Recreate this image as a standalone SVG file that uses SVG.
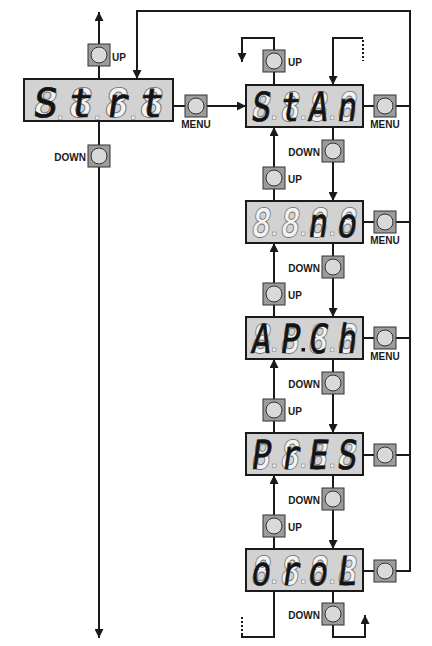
<svg xmlns="http://www.w3.org/2000/svg" width="432" height="646" viewBox="0 0 432 646">
<style>
.ln{fill:none;stroke:#1a1a1a;stroke-width:2}
.dash{fill:none;stroke:#1a1a1a;stroke-width:2;stroke-dasharray:2,2}
.disp{fill:#d2d2d2;stroke:#1a1a1a;stroke-width:2}
.bsq{fill:#9c9c9c;stroke:#333;stroke-width:1}
.bci{fill:#d9d9d9;stroke:#333;stroke-width:1}
.lbl{font-family:"Liberation Sans",Arial,sans-serif;font-weight:bold;font-size:10px;fill:#1a1a1a}
.g{font-family:"DejaVu Sans Mono",monospace;font-weight:bold;font-size:40px;fill:#f3f3f3;stroke:#6e6e6e;stroke-width:0.9;text-anchor:middle}
.d{font-family:"DejaVu Sans Mono",monospace;font-weight:normal;font-size:40px;fill:#141414;stroke:#141414;stroke-width:0.6;text-anchor:middle}
.gd{fill:#eeeeee;stroke:#888;stroke-width:0.6}
.ld{fill:#141414}
</style>
<defs>
<marker id="ah" viewBox="0 0 10 10" refX="10" refY="5" markerWidth="10" markerHeight="9" orient="auto" markerUnits="userSpaceOnUse"><path d="M0,0 L10,5 L0,10 z" fill="#1a1a1a"/></marker>
</defs>
<rect width="432" height="646" fill="#ffffff"/>
<g id="connectors">
<path class="ln" d="M99,80 V12" marker-end="url(#ah)"/>
<path class="ln" d="M99,120 V638" marker-end="url(#ah)"/>
<path class="ln" d="M173,106 H246" marker-end="url(#ah)"/>
<path class="ln" d="M363,571 H410 V11 H137 V79" marker-end="url(#ah)"/>
<path class="ln" d="M363,106 H410 M363,222 H410 M363,338 H410 M363,455 H410"/>
<path class="ln" d="M274,85 V38 H242 V62" marker-end="url(#ah)"/>
<path class="ln" d="M363,38 H333 V85" marker-end="url(#ah)"/>
<path class="dash" d="M363,40 V61"/>
<path class="ln" d="M333,127 V201" marker-end="url(#ah)"/>
<path class="ln" d="M333,243 V317" marker-end="url(#ah)"/>
<path class="ln" d="M333,359 V433" marker-end="url(#ah)"/>
<path class="ln" d="M333,475 V549" marker-end="url(#ah)"/>
<path class="ln" d="M274,201 V127" marker-end="url(#ah)"/>
<path class="ln" d="M274,317 V243" marker-end="url(#ah)"/>
<path class="ln" d="M274,433 V359" marker-end="url(#ah)"/>
<path class="ln" d="M274,549 V475" marker-end="url(#ah)"/>
<path class="ln" d="M333,591 V637 H365 V615" marker-end="url(#ah)"/>
<path class="ln" d="M274,591 V637 H242 V635"/>
<path class="dash" d="M242,635 V616"/>
</g>
<g id="display-strt">
<rect class="disp" x="24" y="79" width="149" height="42"/>
<g transform="translate(44,117) skewX(-8) scale(1.02,1)"><text class="g">8</text><text class="d">S</text></g>
<g transform="translate(79,117) skewX(-8) scale(1.02,1)"><text class="g">8</text><text class="d">t</text></g>
<g transform="translate(115,117) skewX(-8) scale(1.02,1)"><text class="g">8</text><text class="d">r</text></g>
<g transform="translate(150,117) skewX(-8) scale(1.02,1)"><text class="g">8</text><text class="d">t</text></g>
<rect class="gd" x="58.5" y="116" width="3.5" height="3.5"/>
<rect class="gd" x="95.5" y="116" width="3.5" height="3.5"/>
<rect class="gd" x="131.5" y="116" width="3.5" height="3.5"/>
</g>
<g id="btn-up-left"><rect class="bsq" x="88" y="44" width="22" height="22"/><circle class="bci" cx="99" cy="55" r="8"/><text class="lbl" x="112" y="61">UP</text></g>
<g id="btn-down-left"><rect class="bsq" x="88" y="145" width="22" height="22"/><circle class="bci" cx="99" cy="156" r="8"/><text class="lbl" x="86" y="161" text-anchor="end">DOWN</text></g>
<g id="btn-menu-left"><rect class="bsq" x="185" y="95" width="22" height="22"/><circle class="bci" cx="196" cy="106" r="8"/><text class="lbl" x="196" y="128" text-anchor="middle">MENU</text></g>

<g id="display-stan">
<rect class="disp" x="246" y="85" width="117" height="42"/>
<g transform="translate(260,121) skewX(-8) scale(0.82,1)"><text class="g">8</text><text class="d">S</text></g>
<g transform="translate(289,121) skewX(-8) scale(0.82,1)"><text class="g">8</text><text class="d">t</text></g>
<g transform="translate(317,121) skewX(-8) scale(0.82,1)"><text class="g">8</text><text class="d">A</text></g>
<g transform="translate(346,121) skewX(-8) scale(0.82,1)"><text class="g">8</text><text class="d">n</text></g>
<rect class="gd" x="272.5" y="116" width="3.5" height="3.5"/><rect class="gd" x="301.5" y="116" width="3.5" height="3.5"/><rect class="gd" x="330.5" y="116" width="3.5" height="3.5"/>
</g>
<g id="display-no">
<rect class="disp" x="246" y="201" width="117" height="42"/>
<g transform="translate(260,237) skewX(-8) scale(0.82,1)"><text class="g">8</text></g>
<g transform="translate(289,237) skewX(-8) scale(0.82,1)"><text class="g">8</text></g>
<g transform="translate(317,237) skewX(-8) scale(0.82,1)"><text class="g">8</text><text class="d">n</text></g>
<g transform="translate(346,237) skewX(-8) scale(0.82,1)"><text class="g">8</text><text class="d">o</text></g>
<rect class="gd" x="272.5" y="232" width="3.5" height="3.5"/><rect class="gd" x="301.5" y="232" width="3.5" height="3.5"/><rect class="gd" x="330.5" y="232" width="3.5" height="3.5"/>
</g>
<g id="display-apch">
<rect class="disp" x="246" y="317" width="117" height="42"/>
<g transform="translate(260,353) skewX(-8) scale(0.82,1)"><text class="g">8</text><text class="d">A</text></g>
<g transform="translate(289,353) skewX(-8) scale(0.82,1)"><text class="g">8</text><text class="d">P</text></g>
<g transform="translate(317,353) skewX(-8) scale(0.82,1)"><text class="g">8</text><text class="d">C</text></g>
<g transform="translate(346,353) skewX(-8) scale(0.82,1)"><text class="g">8</text><text class="d">h</text></g>
<rect class="gd" x="272.5" y="348" width="3.5" height="3.5"/><rect class="ld" x="301.5" y="348" width="3.5" height="3.5"/><rect class="gd" x="330.5" y="348" width="3.5" height="3.5"/>
</g>
<g id="display-pres">
<rect class="disp" x="246" y="433" width="117" height="42"/>
<g transform="translate(260,469) skewX(-8) scale(0.82,1)"><text class="g">8</text><text class="d">P</text></g>
<g transform="translate(289,469) skewX(-8) scale(0.82,1)"><text class="g">8</text><text class="d">r</text></g>
<g transform="translate(317,469) skewX(-8) scale(0.82,1)"><text class="g">8</text><text class="d">E</text></g>
<g transform="translate(346,469) skewX(-8) scale(0.82,1)"><text class="g">8</text><text class="d">S</text></g>
<rect class="gd" x="272.5" y="464" width="3.5" height="3.5"/><rect class="gd" x="301.5" y="464" width="3.5" height="3.5"/><rect class="gd" x="330.5" y="464" width="3.5" height="3.5"/>
</g>
<g id="display-orol">
<rect class="disp" x="246" y="549" width="117" height="42"/>
<g transform="translate(260,585) skewX(-8) scale(0.82,1)"><text class="g">8</text><text class="d">o</text></g>
<g transform="translate(289,585) skewX(-8) scale(0.82,1)"><text class="g">8</text><text class="d">r</text></g>
<g transform="translate(317,585) skewX(-8) scale(0.82,1)"><text class="g">8</text><text class="d">o</text></g>
<g transform="translate(346,585) skewX(-8) scale(0.82,1)"><text class="g">8</text><text class="d">L</text></g>
<rect class="gd" x="272.5" y="580" width="3.5" height="3.5"/><rect class="gd" x="301.5" y="580" width="3.5" height="3.5"/><rect class="gd" x="330.5" y="580" width="3.5" height="3.5"/>
</g>

<g id="btn-up-top"><rect class="bsq" x="263" y="50" width="22" height="22"/><circle class="bci" cx="274" cy="61" r="8"/><text class="lbl" x="288" y="66">UP</text></g>
<g id="btn-up-2"><rect class="bsq" x="263" y="167" width="22" height="22"/><circle class="bci" cx="274" cy="178" r="8"/><text class="lbl" x="288" y="183">UP</text></g>
<g id="btn-up-3"><rect class="bsq" x="263" y="283" width="22" height="22"/><circle class="bci" cx="274" cy="294" r="8"/><text class="lbl" x="288" y="299">UP</text></g>
<g id="btn-up-4"><rect class="bsq" x="263" y="399" width="22" height="22"/><circle class="bci" cx="274" cy="410" r="8"/><text class="lbl" x="288" y="415">UP</text></g>
<g id="btn-up-5"><rect class="bsq" x="263" y="515" width="22" height="22"/><circle class="bci" cx="274" cy="526" r="8"/><text class="lbl" x="288" y="531">UP</text></g>

<g id="btn-down-2"><rect class="bsq" x="322" y="140" width="22" height="22"/><circle class="bci" cx="333" cy="151" r="8"/><text class="lbl" x="320" y="156" text-anchor="end">DOWN</text></g>
<g id="btn-down-3"><rect class="bsq" x="322" y="256" width="22" height="22"/><circle class="bci" cx="333" cy="267" r="8"/><text class="lbl" x="320" y="272" text-anchor="end">DOWN</text></g>
<g id="btn-down-4"><rect class="bsq" x="322" y="372" width="22" height="22"/><circle class="bci" cx="333" cy="383" r="8"/><text class="lbl" x="320" y="388" text-anchor="end">DOWN</text></g>
<g id="btn-down-5"><rect class="bsq" x="322" y="488" width="22" height="22"/><circle class="bci" cx="333" cy="499" r="8"/><text class="lbl" x="320" y="504" text-anchor="end">DOWN</text></g>
<g id="btn-down-bottom"><rect class="bsq" x="322" y="603" width="22" height="22"/><circle class="bci" cx="333" cy="614" r="8"/><text class="lbl" x="320" y="619" text-anchor="end">DOWN</text></g>

<g id="btn-menu-1"><rect class="bsq" x="374" y="95" width="22" height="22"/><circle class="bci" cx="385" cy="106" r="8"/><text class="lbl" x="385" y="128" text-anchor="middle">MENU</text></g>
<g id="btn-menu-2"><rect class="bsq" x="374" y="211" width="22" height="22"/><circle class="bci" cx="385" cy="222" r="8"/><text class="lbl" x="385" y="244" text-anchor="middle">MENU</text></g>
<g id="btn-menu-3"><rect class="bsq" x="374" y="327" width="22" height="22"/><circle class="bci" cx="385" cy="338" r="8"/><text class="lbl" x="385" y="360" text-anchor="middle">MENU</text></g>
<g id="btn-right-4"><rect class="bsq" x="374" y="444" width="22" height="22"/><circle class="bci" cx="385" cy="455" r="8"/></g>
<g id="btn-right-5"><rect class="bsq" x="374" y="560" width="22" height="22"/><circle class="bci" cx="385" cy="571" r="8"/></g>
</svg>
